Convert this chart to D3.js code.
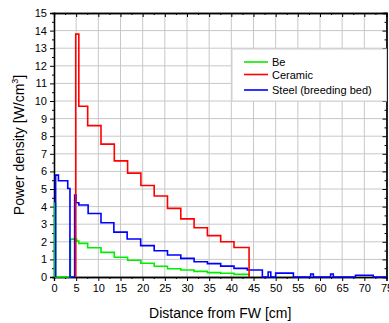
<!DOCTYPE html>
<html lang="en">
<head>
  <meta charset="UTF-8">
  <title>Power density</title>
  <script src="https://d3js.org/d3.v7.min.js"></script>
  <style>
    body { margin: 0; background: #fff; }
    text { font-family: "Liberation Sans", Arial, sans-serif; }
  </style>
</head>
<body>
  <div id="chart"></div>
  <script>
    // step profiles: x = start of each step [cm], y = power density [W/cm3]
    var beX = [0.1, 0.1, 0.35, 3.7, 5.1, 5.6, 7.6, 10.6, 13.6, 16.6, 19.6, 22.6, 25.6, 28.6, 31.6, 34.6, 37.6, 40.6, 44.0];
    var beY = [0, 4.2, 0, 2.15, 2.04, 1.91, 1.66, 1.40, 1.12, 0.95, 0.78, 0.61, 0.47, 0.40, 0.32, 0.25, 0.21, 0.15, 0];

    var ceramicX = [4.9, 4.9, 5.6, 7.6, 10.6, 13.6, 16.6, 19.6, 22.6, 25.6, 28.6, 31.6, 34.6, 37.6, 40.6, 44.0];
    var ceramicY = [0, 13.8, 9.7, 8.6, 7.55, 6.6, 5.9, 5.2, 4.6, 3.9, 3.3, 2.8, 2.35, 2.0, 1.68, 0];

    var steelX = [0.37, 0.37, 1.0, 3.1, 3.6, 4.66, 4.96, 5.6, 7.7, 10.6, 13.5, 16.5, 19.55, 22.6, 25.6, 28.6, 31.6, 34.6, 37.6, 40.6, 43.6, 47.0, 48.3, 48.9, 50.0, 54.0, 57.9, 58.5, 62.4, 63.0, 68.0, 72.0, 75.0];
    var steelY = [0, 5.79, 5.47, 5.03, 0, 4.65, 4.22, 4.09, 3.61, 3.08, 2.55, 2.16, 1.78, 1.49, 1.25, 1.06, 0.87, 0.76, 0.62, 0.49, 0.40, 0, 0.28, 0, 0.22, 0, 0.17, 0, 0.17, 0, 0.1, 0, 0];

    var seriesNames = ["Be", "Ceramic", "Steel (breeding bed)"];
    var seriesColors = ["#00ee00", "#ff0000", "#0000ff"];

    var xTicks = d3.range(0, 76, 5);
    var yTicks = d3.range(0, 16, 1);

    var margin = { top: 13, right: 2.5, bottom: 46, left: 54 },
      width = 389 - margin.left - margin.right,
      height = 323 - margin.top - margin.bottom;

    var svg = d3.select("#chart")
      .append("svg")
      .attr("width", 389)
      .attr("height", 323)
      .append("g")
      .attr("transform", "translate(" + margin.left + "," + margin.top + ")");

    var x = d3.scaleLinear().domain([0, 75]).range([0, width]);
    var y = d3.scaleLinear().domain([0, 15]).range([height, 0]);

    // grid
    svg.append("g")
      .selectAll("line")
      .data(xTicks.slice(1, -1))
      .enter().append("line")
      .attr("x1", function (d) { return x(d); })
      .attr("x2", function (d) { return x(d); })
      .attr("y1", 0).attr("y2", height)
      .attr("stroke", "#c8c8c8");
    svg.append("g")
      .selectAll("line")
      .data(yTicks.slice(1, -1))
      .enter().append("line")
      .attr("y1", function (d) { return y(d); })
      .attr("y2", function (d) { return y(d); })
      .attr("x1", 0).attr("x2", width)
      .attr("stroke", "#c8c8c8");

    var xMinor = d3.range(2.5, 75, 5);
    var yMinor = d3.range(0.5, 15, 1);

    // bottom axis
    svg.append("g")
      .attr("transform", "translate(0," + height + ")")
      .call(d3.axisBottom(x).tickValues(xTicks).tickSize(4).tickPadding(3).tickFormat(d3.format("d")));
    svg.append("g")
      .attr("transform", "translate(0," + height + ")")
      .call(d3.axisBottom(x).tickValues(xMinor).tickSize(2).tickFormat(""));
    // left axis
    svg.append("g")
      .call(d3.axisLeft(y).tickValues(yTicks).tickSize(4).tickPadding(3).tickFormat(d3.format("d")));
    svg.append("g")
      .call(d3.axisLeft(y).tickValues(yMinor).tickSize(2).tickFormat(""));
    // top and right frame, ticks inside
    svg.append("g")
      .call(d3.axisTop(x).tickValues(xTicks).tickSize(-4).tickFormat(""));
    svg.append("g")
      .call(d3.axisTop(x).tickValues(xMinor).tickSize(-2).tickFormat(""));
    svg.append("g")
      .attr("transform", "translate(" + width + ",0)")
      .call(d3.axisRight(y).tickValues(yTicks).tickSize(-4).tickFormat(""));
    svg.append("g")
      .attr("transform", "translate(" + width + ",0)")
      .call(d3.axisRight(y).tickValues(yMinor).tickSize(-2).tickFormat(""));

    svg.selectAll(".domain").attr("stroke-width", 1.3);
    svg.selectAll(".tick text").attr("font-size", 11).attr("fill", "#000");

    // lines
    var line = d3.line()
      .x(function (d) { return x(d[0]); })
      .y(function (d) { return y(d[1]); })
      .curve(d3.curveStepAfter);

    var series = [d3.zip(beX, beY), d3.zip(ceramicX, ceramicY), d3.zip(steelX, steelY)];
    [0, 2, 1].forEach(function (i) {
      svg.append("path")
        .datum(series[i])
        .attr("fill", "none")
        .attr("stroke", seriesColors[i])
        .attr("stroke-width", 1.6)
        .attr("d", line);
    });

    // legend
    var legend = svg.append("g").attr("transform", "translate(" + (232 - margin.left) + "," + (49 - margin.top) + ")");
    legend.append("rect")
      .attr("width", width - (232 - margin.left))
      .attr("height", 52)
      .attr("fill", "#fff")
      .attr("stroke", "#d0d0d0");
    var rowY = [13, 25.5, 41];
    seriesNames.forEach(function (name, i) {
      legend.append("line")
        .attr("x1", 12).attr("x2", 36)
        .attr("y1", rowY[i]).attr("y2", rowY[i])
        .attr("stroke", seriesColors[i])
        .attr("stroke-width", 1.6);
      legend.append("text")
        .attr("x", 40).attr("y", rowY[i] + 4)
        .attr("font-size", 11)
        .text(name);
    });

    // axis titles
    svg.append("text")
      .attr("x", width / 2)
      .attr("y", height + 41)
      .attr("text-anchor", "middle")
      .attr("font-size", 14)
      .text("Distance from FW [cm]");

    var yl = svg.append("text")
      .attr("transform", "translate(" + (-30) + "," + (height / 2) + ") rotate(-90)")
      .attr("text-anchor", "middle")
      .attr("font-size", 14);
    yl.append("tspan").text("Power density [W/cm");
    yl.append("tspan").attr("font-size", 9).attr("dy", -6).text("3");
    yl.append("tspan").attr("dy", 6).text("]");
  </script>
</body>
</html>
